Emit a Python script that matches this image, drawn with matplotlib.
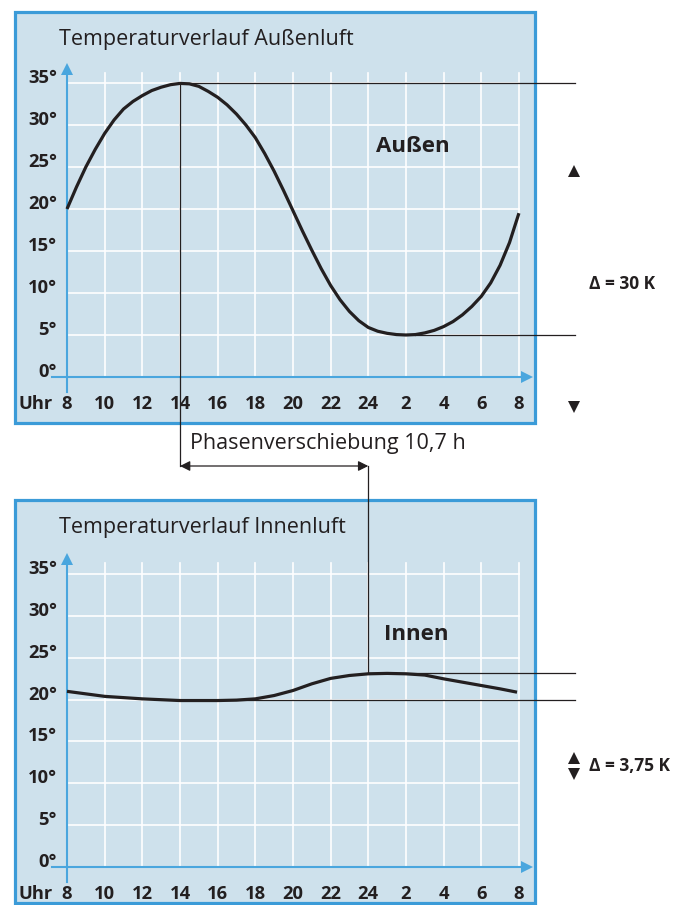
import numpy as np
import matplotlib
matplotlib.use('Agg')
import matplotlib.pyplot as plt
from matplotlib.patches import Rectangle

# Data (hours since 08:00, temperature in °C), read every half hour
hours = [i / 2 for i in range(0, 49)]
outdoor_temp = [20.0, 22.6, 25.0, 27.1, 29.0, 30.6, 31.9, 32.8, 33.5, 34.1, 34.5, 34.8, 34.95,
                34.9, 34.6, 34.0, 33.3, 32.4, 31.3, 30.0, 28.5, 26.6, 24.5, 22.2, 19.8,
                17.4, 15.1, 12.9, 10.9, 9.2, 7.8, 6.7, 5.9, 5.45, 5.2, 5.05, 5.0, 5.05, 5.25,
                5.55, 6.0, 6.6, 7.4, 8.4, 9.6, 11.2, 13.3, 16.0, 19.5]
indoor_hours = [0, 1, 2, 3, 4, 5, 6, 7, 8, 9, 10, 11, 12, 13, 14, 15, 16, 17, 18, 19, 20, 21,
                22, 23, 23.9]
indoor_temp = [21.0, 20.7, 20.4, 20.25, 20.1, 20.0, 19.9, 19.9, 19.9, 19.95, 20.1, 20.5, 21.1,
               21.9, 22.55, 22.9, 23.1, 23.15, 23.1, 22.95, 22.5, 22.1, 21.7, 21.3, 20.9]
y_ticks = [0, 5, 10, 15, 20, 25, 30, 35]
y_labels = ['0°', '5°', '10°', '15°', '20°', '25°', '30°', '35°']
x_ticks = list(range(0, 25, 2))
x_labels = ['8', '10', '12', '14', '16', '18', '20', '22', '24', '2', '4', '6', '8']

outdoor_max, outdoor_min = 35, 5
indoor_max, indoor_min = 23.15, 20
peak_hour, indoor_peak_hour = 6, 16

# colours
BOX_FILL = '#cee1ec'
BOX_EDGE = '#3b9bd8'
AXIS_BLUE = '#4aa6de'
INK = '#231f20'

plt.rcParams['font.family'] = ['Open Sans', 'DejaVu Sans']

fig = plt.figure(figsize=(6.9, 9.05), dpi=100)

# pixel -> data helpers for layout (x: 67px = 0h, 18.83 px per hour)
PXH = 18.83
def hx(px):
    return (px - 67) / PXH

def make_panel(rect, y0_px, pxd, top_px, bottom_px, panel_top, panel_bot):
    ax = fig.add_axes(rect)
    ax.set_xlim(hx(0), hx(690))
    ax.set_ylim((y0_px - panel_bot) / pxd, (y0_px - panel_top) / pxd)
    ax.axis('off')
    vy = lambda py: (y0_px - py) / pxd
    # box
    ax.add_patch(Rectangle((hx(15), vy(bottom_px)), hx(535) - hx(15), vy(top_px) - vy(bottom_px),
                           facecolor=BOX_FILL, edgecolor=BOX_EDGE, lw=2.3, zorder=0))
    # grid
    for xt in x_ticks:
        ax.plot([xt, xt], [0, vy(y0_px - 304)], color='white', lw=1.2, zorder=1)
    for yt in y_ticks[1:]:
        ax.plot([0, 24], [yt, yt], color='white', lw=1.2, zorder=1)
    # axes with arrows
    ax.plot([0, 0], [vy(y0_px + 15), vy(y0_px - 303)], color=AXIS_BLUE, lw=1.5, zorder=2)
    ax.plot([0], [vy(y0_px - 308)], marker='^', ms=8, color=AXIS_BLUE, mew=0, zorder=2)
    ax.plot([hx(52), hx(524)], [0, 0], color=AXIS_BLUE, lw=1.5, zorder=2)
    ax.plot([hx(527)], [0], marker='>', ms=8, color=AXIS_BLUE, mew=0, zorder=2)
    # tick labels
    for yt, lab in zip(y_ticks, y_labels):
        ax.text(hx(57), yt + 0.6, lab, ha='right', va='center', fontsize=13.2,
                fontweight='bold', color=INK)
    for xt, lab in zip(x_ticks, x_labels):
        ax.text(xt, vy(y0_px + 27), lab, ha='center', va='center', fontsize=13.2,
                fontweight='bold', color=INK)
    ax.text(hx(53), vy(y0_px + 27), 'Uhr', ha='right', va='center', fontsize=13.2,
            fontweight='bold', color=INK)
    return ax, vy

# top panel: 0° at 377 px, 8.4 px per degree; axes covers 0..452 px
ax1, vy1 = make_panel([0, 1 - 452 / 905, 1, 452 / 905], 377, 8.4, 12, 423, 0, 452)
# bottom panel: 0° at 866.7 px, 8.35 px per degree; axes covers 452..905 px
ax2, vy2 = make_panel([0, 0, 1, 453 / 905], 866.7 - 452, 8.35, 500 - 452, 903 - 452, 0, 453)

# titles
ax1.text(hx(59), vy1(40), 'Temperaturverlauf Außenluft', fontsize=15.5, color=INK, va='center')
ax2.text(hx(59), vy2(528 - 452), 'Temperaturverlauf Innenluft', fontsize=15.5, color=INK, va='center')

# curves
ax1.plot(hours, outdoor_temp, color=INK, lw=2.3, zorder=4, solid_capstyle='butt')
ax2.plot(indoor_hours, indoor_temp, color=INK, lw=2.3, zorder=4, solid_capstyle='butt')

ax1.text(hx(413), vy1(147), 'Außen', fontsize=16, fontweight='bold', color=INK,
         ha='center', va='center')
ax2.text(hx(416), vy2(635 - 452), 'Innen', fontsize=16, fontweight='bold', color=INK,
         ha='center', va='center')

# amplitude lines
ax1.plot([peak_hour, hx(575)], [outdoor_max, outdoor_max], color=INK, lw=0.9, zorder=3)
ax1.plot([hx(415), hx(575)], [outdoor_min, outdoor_min], color=INK, lw=0.9, zorder=3)
ax2.plot([indoor_peak_hour, hx(575)], [indoor_max, indoor_max], color=INK, lw=0.9, zorder=3)
ax2.plot([hx(210), hx(575)], [indoor_min, indoor_min], color=INK, lw=0.9, zorder=3)

# delta markers
ax1.plot([hx(574)], [vy1(171)], marker='^', ms=8, color=INK, mew=0)
ax1.plot([hx(574)], [vy1(407)], marker='v', ms=8, color=INK, mew=0)
ax1.text(hx(589), vy1(284), 'Δ = 30 K', fontsize=12.5, fontweight='bold', color=INK,
         ha='left', va='center')
ax2.plot([hx(574)], [vy2(758 - 452)], marker='^', ms=8, color=INK, mew=0)
ax2.plot([hx(574)], [vy2(774 - 452)], marker='v', ms=8, color=INK, mew=0)
ax2.text(hx(589), vy2(766 - 452), 'Δ = 3,75 K', fontsize=12.5, fontweight='bold', color=INK,
         ha='left', va='center')

# phase shift
arrow_y = vy1(466)
ax1.plot([peak_hour, peak_hour], [outdoor_max, arrow_y], color=INK, lw=0.9, zorder=3, clip_on=False)
ax2.plot([indoor_peak_hour, indoor_peak_hour], [vy2(466 - 452), indoor_max], color=INK, lw=0.9, zorder=3)
ax1.annotate('', xy=(indoor_peak_hour, arrow_y), xytext=(peak_hour, arrow_y),
             arrowprops=dict(arrowstyle='<|-|>', color=INK, lw=0.9, mutation_scale=15,
                             shrinkA=0, shrinkB=0), annotation_clip=False)
ax1.text(hx(190), vy1(443), 'Phasenverschiebung 10,7 h', fontsize=15.5, color=INK,
         ha='left', va='center', clip_on=False)

fig.savefig('out.png', dpi=100)
